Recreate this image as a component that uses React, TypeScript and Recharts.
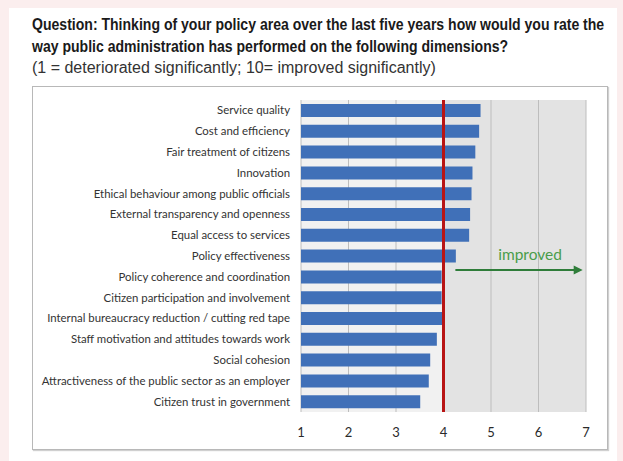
import React from 'react';
import {
  BarChart,
  Bar,
  XAxis,
  YAxis,
  CartesianGrid,
  ReferenceLine,
} from 'recharts';

const dimensions = [
  'Service quality',
  'Cost and efficiency',
  'Fair treatment of citizens',
  'Innovation',
  'Ethical behaviour among public officials',
  'External transparency and openness',
  'Equal access to services',
  'Policy effectiveness',
  'Policy coherence and coordination',
  'Citizen participation and involvement',
  'Internal bureaucracy reduction / cutting red tape',
  'Staff motivation and attitudes towards work',
  'Social cohesion',
  'Attractiveness of the public sector as an employer',
  'Citizen trust in government',
];

const scores = [4.78, 4.75, 4.67, 4.61, 4.59, 4.56, 4.54, 4.26, 3.96, 3.96, 3.98, 3.86, 3.72, 3.69, 3.51];

const xTicks = [1, 2, 3, 4, 5, 6, 7];
const neutral = 4;
const arrowFrom = 4.25;
const arrowTo = 6.93;
const arrowRow = 'Policy effectiveness';

const data = dimensions.map((name, i) => ({ name, score: scores[i] }));

// plain text tick so long labels stay on one line
const CategoryTick = (props: any) => {
  const { x, y, payload } = props;
  return (
    <text x={x} y={y} dy="0.35em" textAnchor="end" fontSize={11.4} fill="#333" fontFamily="Lato, sans-serif">
      {payload.value}
    </text>
  );
};

const ImprovedArrow = (props: any) => {
  const { x1, y1, x2 } = props;
  const y = y1 + 14;
  return (
    <g>
      <text x={(x1 + x2) / 2 + 11} y={y - 10} textAnchor="middle" fill="#4a9d4a" fontSize={15.5} fontFamily="Lato, sans-serif">
        improved
      </text>
      <line x1={x1} y1={y} x2={x2 - 8} y2={y} stroke="#2f7d3a" strokeWidth={2} />
      <polygon points={`${x2},${y} ${x2 - 9},${y - 4.5} ${x2 - 9},${y + 4.5}`} fill="#2f7d3a" />
    </g>
  );
};

export default function App() {
  return (
    <div style={{ position: 'absolute', left: 0, top: 0, width: 623, height: 461, background: '#fbeeee' }}>
      <div style={{ position: 'absolute', left: 9, top: 8, width: 608, height: 453, background: '#ffffff' }} />
      <div
        style={{
          position: 'absolute',
          left: 32,
          top: 14,
          width: 700,
          fontFamily: '"Liberation Sans", Arial, sans-serif',
          color: '#1a1a1a',
        }}
      >
        <div
          style={{
            fontWeight: 'bold',
            fontSize: 16,
            lineHeight: '22px',
            transform: 'scaleX(0.878)',
            transformOrigin: 'left top',
            whiteSpace: 'nowrap',
          }}
        >
          Question: Thinking of your policy area over the last five years how would you rate the
          <br />
          way public administration has performed on the following dimensions?
        </div>
        <div style={{ fontSize: 16, lineHeight: '19px', color: '#333' }}>
          (1 = deteriorated significantly; 10= improved significantly)
        </div>
      </div>
      <div
        style={{
          position: 'absolute',
          left: 32,
          top: 86,
          width: 574,
          height: 362,
          border: '1px solid #b8b8b8',
          boxShadow: '1px 1px 1px #d0d0d0',
          background: '#ffffff',
        }}
      />
      <div style={{ position: 'absolute', left: 0, top: 0 }}>
        <BarChart
          width={623}
          height={461}
          data={data}
          layout="vertical"
          margin={{ top: 100, right: 37, bottom: 19, left: 41 }}
          barCategoryGap={4}
        >
          <CartesianGrid
            horizontal={false}
            stroke="#bdbdbd"
            verticalFill={['#f1f1f1', '#f1f1f1', '#f1f1f1', '#e3e3e3', '#e3e3e3', '#e3e3e3']}
          />
          <XAxis
            type="number"
            domain={[1, 7]}
            ticks={xTicks}
            axisLine={false}
            tickLine={false}
            tickMargin={10}
            tick={{ fontSize: 13, fill: '#2a2a2a', fontFamily: 'Lato, sans-serif' }}
          />
          <YAxis
            type="category"
            dataKey="name"
            width={260}
            axisLine={false}
            tickLine={false}
            tickMargin={5}
            interval={0}
            tick={<CategoryTick />}
          />
          <Bar dataKey="score" fill="#4070b8" barSize={13} isAnimationActive={false} />
          <ReferenceLine x={neutral} stroke="#b81414" strokeWidth={3} />
          <ReferenceLine
            segment={[
              { x: arrowFrom, y: arrowRow },
              { x: arrowTo, y: arrowRow },
            ]}
            shape={ImprovedArrow}
          />
        </BarChart>
      </div>
    </div>
  );
}
